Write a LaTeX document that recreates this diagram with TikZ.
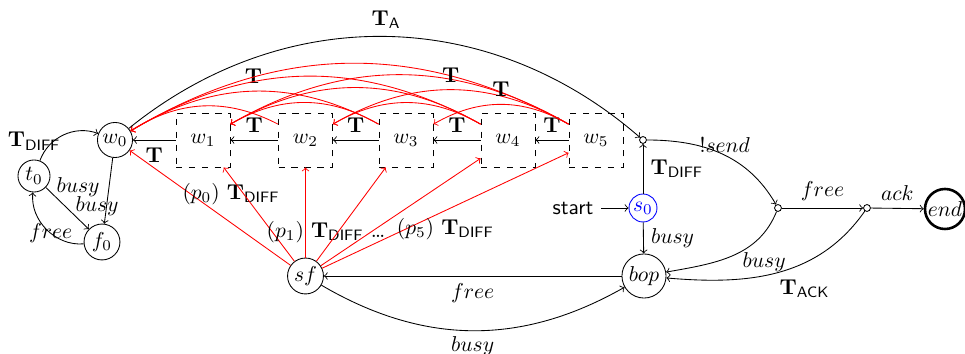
\documentclass[tikz,border=0pt]{standalone}
\usepackage{amsmath}
\newcommand{\Tdiff}{\mathbf{T}_{\textsf{DIFF}}}
\begin{document}
\begin{tikzpicture}[x=0.465pt, y=-0.465pt,
  st/.style={circle, draw, inner sep=0.5pt},
  wbox/.style={draw, dashed, minimum size=25.1pt},
  junct/.style={circle, draw, fill=white, inner sep=0pt, minimum size=3.2pt},
  redarr/.style={red, ->},
  lbl/.style={text=black}]
\useasboundingbox (0,0) rectangle (965,354);
% nodes
\node[st, minimum size=14.9pt] (t0) at (34,176) {$t_0$};
\node[st, minimum size=16.3pt] (w0) at (115,140) {$w_0$};
\node[st, minimum size=16.7pt] (f0) at (102,242) {$f_0$};
\node[wbox] (w1) at (203,140) {$w_1$};
\node[wbox] (w2) at (305.5,140) {$w_2$};
\node[wbox] (w3) at (406,140) {$w_3$};
\node[wbox] (w4) at (508,140) {$w_4$};
\node[wbox] (w5) at (596,140) {$w_5$};
\node[junct] (j1) at (643,140) {};
\node[st, blue, minimum size=13pt] (s0) at (643,208) {$s_0$};
\node[st, minimum size=20.5pt] (bop) at (644,276) {$bop$};
\node[st, minimum size=16.7pt] (sf) at (305.5,276) {$sf$};
\node[junct] (j2) at (778,208) {};
\node[junct] (j3) at (867,208) {};
\node[st, line width=1.2pt] (end) at (945,209) {$end$};
\node (start) at (573,208) {\textsf{start}};
% left part
\draw[->] (t0) to[bend left=45] node[pos=0.3, above left=-2pt, xshift=5.5pt, yshift=-5pt] {$\Tdiff$} (w0);
\draw[->] (t0) -- node[pos=0.4, above, xshift=7pt] {$busy$} (f0);
\draw[->] (w0) -- node[pos=0.74, xshift=-4.4pt] {$busy$} (f0);
\draw[->] (f0) to[bend left=50] node[pos=0.15, left=-1pt, xshift=3pt, yshift=4.5pt] {$free$} (t0);
% chain
\draw[->] (w1) -- node[below] {$\mathbf{T}$} (w0);
\draw[->] (w2) -- node[above] {$\mathbf{T}$} (w1);
\draw[->] (w3) -- node[above] {$\mathbf{T}$} (w2);
\draw[->] (w4) -- node[above] {$\mathbf{T}$} (w3);
\draw[->] (w5) -- node[above] {$\mathbf{T}$} (w4);
% red jumps
\draw[redarr] (w2) to[bend right=30] (w0);
\draw[redarr] (w3) to[bend right=30] node[lbl, above] {$\mathbf{T}$} (w0);
\draw[redarr] (w3) to[bend right=30] (w1);
\draw[redarr] (w4) to[bend right=30] (w0);
\draw[redarr] (w4) to[bend right=30] (w1);
\draw[redarr] (w4) to[bend right=30] (w2);
\draw[redarr] (w5) to[bend right=30] (w0);
\draw[redarr] (w5) to[bend right=30] (w1);
\draw[redarr] (w5) to[bend right=30] node[lbl, above] {$\mathbf{T}$} (w2);
\draw[redarr] (w5) to[bend right=30] node[lbl, above] {$\mathbf{T}$} (w3);
% sf fan
\draw[redarr] (sf) -- node[lbl, pos=0.43, above, xshift=4.5pt, yshift=1.5pt] {$(p_0)$ $\Tdiff$} (w0);
\draw[redarr] (sf) -- (w1);
\draw[redarr] (sf) -- node[lbl, pos=0.28, xshift=9.5pt] {$(p_1)$ $\Tdiff$ \dots} (w2);
\draw[redarr] (sf) -- (w3);
\draw[redarr] (sf) -- (w4);
\draw[redarr] (sf) -- node[lbl, pos=0.5, below] {$(p_5)$ $\Tdiff$} (w5);
% top arc
\draw[->] (w0) to[bend left=40] node[above] {$\mathbf{T}_{\textsf{A}}$} (j1);
% right part
\draw[->] (start) -- (s0);
\draw[->] (s0) -- node[right] {$\Tdiff$} (j1);
\draw[->] (s0) -- node[right] {$busy$} (bop);
\draw[->] (j1) to[out=0, in=120] node[pos=0.52, above, inner sep=1pt] {$!send$} (j2);
\draw[->] (j2) -- node[above] {$free$} (j3);
\draw[->] (j3) -- node[above] {$ack$} (end);
\draw[->] (j2) to[out=-112, in=10] node[pos=0.4, below right=-6pt, xshift=2pt, yshift=-3.5pt] {$busy$} (bop);
\draw[->] (j3) to[out=-125, in=-5] node[pos=0.4, below, xshift=3pt, yshift=-3pt] {$\mathbf{T}_{\textsf{ACK}}$} (bop);
\draw[->] (bop) -- node[below] {$free$} (sf);
\draw[->] (sf) to[bend right=30] node[below=-1pt] {$busy$} (bop);
\end{tikzpicture}
\end{document}
